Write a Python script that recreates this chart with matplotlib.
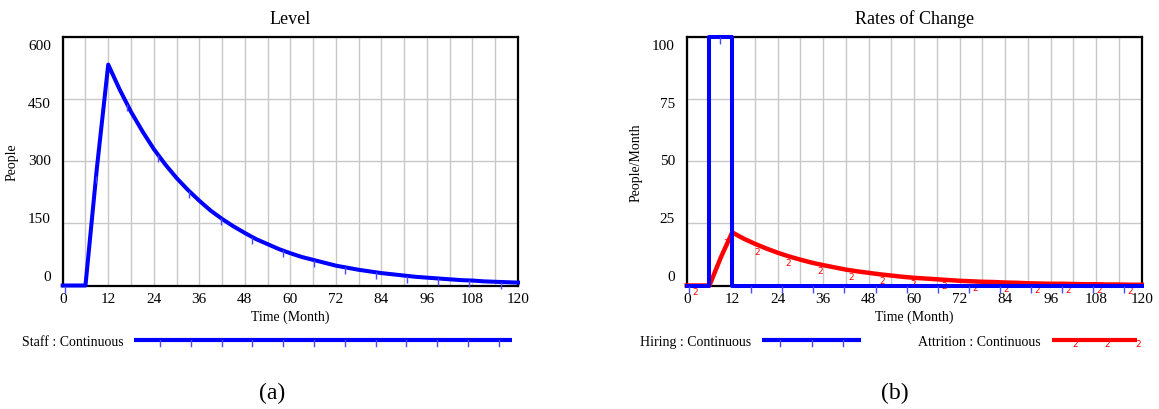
import numpy as np
import matplotlib
matplotlib.use("Agg")
import matplotlib.pyplot as plt
from matplotlib.lines import Line2D

plt.rcParams['font.family'] = ['Liberation Serif', 'DejaVu Serif']

# simulation output (every 3 months)
months = list(range(0, 121, 3))
staff = [0, 0, 0, 283, 534, 474, 420, 373, 330, 293, 260, 231, 205, 181, 161,
         143, 127, 112, 100, 88, 78, 69, 62, 55, 48, 43, 38, 34, 30, 27, 24,
         21, 19, 17, 15, 13, 12, 10, 9, 8, 7]
attrition = [0, 0, 0, 11.3, 21.4, 18.9, 16.8, 14.9, 13.2, 11.7, 10.4, 9.2, 8.2,
             7.3, 6.4, 5.7, 5.1, 4.5, 4.0, 3.5, 3.1, 2.8, 2.5, 2.2, 1.9, 1.7,
             1.5, 1.4, 1.2, 1.1, 0.9, 0.8, 0.7, 0.7, 0.6, 0.5, 0.5, 0.4, 0.4,
             0.3, 0.3]
hiring_months = [0, 6, 6, 12, 12, 120]
hiring = [0, 0, 100, 100, 0, 0]

xticks = list(range(0, 121, 12))
level_ticks = [0, 150, 300, 450, 600]
rate_ticks = [0, 25, 50, 75, 100]

BLUE = '#0000ff'
TICKBLUE = '#4a4aff'
RED = '#ff0000'
GRID = '#c8c8c8'

W, H = 1159, 410
fig = plt.figure(figsize=(W / 100, H / 100), dpi=100)

tick_marker = [(0, 0), (0, -1)]
mark_blue = np.arange(0.6, 120, 8.2)
mark_red = np.arange(3.2, 120, 8.2)


def setup(ax, yticks, title, ylabel):
    ax.set_xlim(0, 120)
    ax.set_ylim(0, yticks[-1])
    ax.set_xticks(xticks)
    ax.set_xticklabels([str(t) for t in xticks], fontsize=11)
    ax.set_xticks(range(6, 120, 6), minor=True)
    ax.set_yticks(yticks)
    ax.set_yticklabels([])
    ax.tick_params(length=0, pad=5, which='both')
    ax.grid(True, which='both', axis='x', color=GRID, lw=1)
    ax.grid(True, which='major', axis='y', color=GRID, lw=1)
    ax.set_axisbelow(True)
    for s in ax.spines.values():
        s.set_linewidth(1.6)
    # vensim puts the y labels slightly inside the grid span
    for v in yticks:
        f = 0.037 + 0.93 * v / yticks[-1]
        ax.text(-0.026, f, str(v), transform=ax.transAxes, ha='right',
                va='center', fontsize=11)
    ax.set_xlabel('Time (Month)', fontsize=10, labelpad=3)
    ax.set_ylabel(ylabel, fontsize=10)
    ax.yaxis.set_label_coords(-0.097, 0.5)
    ax.set_title(title, fontsize=13, pad=10)


# (a) Level
ax1 = fig.add_axes([62.7 / W, 1 - 286.5 / H, 455.3 / W, 248.2 / H])
setup(ax1, level_ticks, 'Level', 'People')
ax1.plot(months, staff, color=BLUE, lw=2.9, clip_on=False, zorder=3)
ax1.plot(mark_blue, np.interp(mark_blue, months, staff), ls='none',
         marker=tick_marker, ms=10, mew=1, mec=TICKBLUE, clip_on=False, zorder=3)

# (b) Rates of Change
ax2 = fig.add_axes([686.7 / W, 1 - 286.5 / H, 455.0 / W, 248.2 / H])
setup(ax2, rate_ticks, 'Rates of Change', 'People/Month')
ax2.plot(months, attrition, color=RED, lw=3.2, clip_on=False, zorder=3)
for t in mark_red:
    ax2.annotate('2', (t, np.interp(t, months, attrition)), xytext=(-2.5, -4),
                 textcoords='offset points', ha='center', va='center',
                 fontsize=6.5, color=RED, family='DejaVu Sans',
                 annotation_clip=False, zorder=4)
ax2.plot(hiring_months, hiring, color=BLUE, lw=2.9, clip_on=False, zorder=5)
ax2.plot(mark_blue, np.interp(mark_blue, hiring_months, hiring), ls='none',
         marker=tick_marker, ms=10, mew=1, mec=TICKBLUE, clip_on=False, zorder=5)

# legends and captions drawn in pixel space
ov = fig.add_axes([0, 0, 1, 1])
ov.set_xlim(0, W)
ov.set_ylim(H, 0)
ov.axis('off')


def legend_entry(label, x_text, x0, x1, color, tick_xs, digit=False):
    ov.text(x_text, 342.5, label, ha='right', va='center', fontsize=10)
    ov.add_line(Line2D([x0, x1], [341, 341], color=color, lw=3,
                       solid_capstyle='butt'))
    for tx in tick_xs:
        if digit:
            ov.text(tx, 345, '2', ha='center', va='center', fontsize=6.5,
                    color=color, family='DejaVu Sans')
        else:
            ov.add_line(Line2D([tx, tx], [341, 347], color=TICKBLUE, lw=1))


legend_entry('Staff : Continuous', 124, 134, 512, BLUE,
             np.arange(160, 505, 30.8))
legend_entry('Hiring : Continuous', 751, 762, 861, BLUE, [780, 811.5, 843])
legend_entry('Attrition : Continuous', 1041, 1052, 1137, RED,
             [1075, 1107, 1138], digit=True)

ov.text(272, 393, '(a)', ha='center', va='center', fontsize=17)
ov.text(895, 393, '(b)', ha='center', va='center', fontsize=17)

fig.savefig('out.png', dpi=100)
